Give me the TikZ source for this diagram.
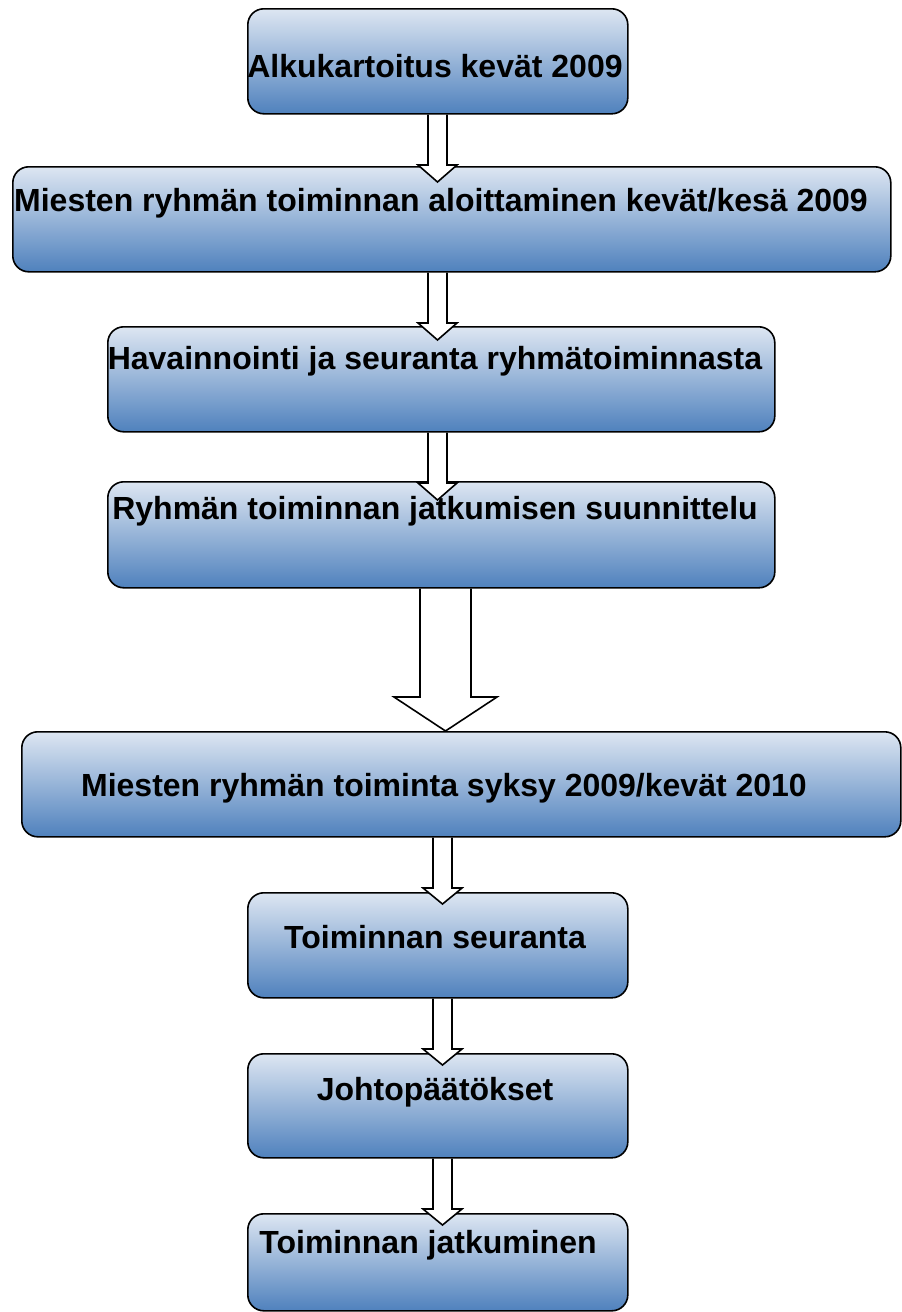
\documentclass[tikz,border=0pt]{standalone}
\usepackage{fontspec}
\setmainfont{Liberation Sans}
\usetikzlibrary{calc}
\definecolor{boxtop}{RGB}{221,230,242}
\definecolor{boxmid}{RGB}{176,196,226}
\definecolor{boxbot}{RGB}{79,129,189}
\tikzset{
  stepbox/.style={draw=black, line width=1.6pt, rounded corners=16pt,
    top color=boxtop, middle color=boxmid, bottom color=boxbot,
    inner sep=0pt, anchor=north west},
  steptext/.style={anchor=base, inner sep=0pt,
    font=\bfseries\fontsize{32}{38}\selectfont},
  blockarrow/.style={draw=black, line width=1.6pt, line join=miter},
}
% #1 from, #2 to, #3 centre x, #4 half body, #5 half head, #6 head length, #7 tip depth below top of #2
\newcommand{\flowarrow}[7]{%
  \fill[white] let \p1=(#1.south), \p2=(#2.north) in
    ({#3pt-#4pt},{\y1-1pt}) -- ({#3pt-#4pt},{\y2-#7pt+#6pt})
    -- ({#3pt-#5pt},{\y2-#7pt+#6pt}) -- (#3pt,{\y2-#7pt})
    -- ({#3pt+#5pt},{\y2-#7pt+#6pt}) -- ({#3pt+#4pt},{\y2-#7pt+#6pt})
    -- ({#3pt+#4pt},{\y1-1pt}) -- cycle;
  \draw[blockarrow] let \p1=(#1.south), \p2=(#2.north) in
    ({#3pt-#4pt},\y1) -- ({#3pt-#4pt},{\y2-#7pt+#6pt})
    -- ({#3pt-#5pt},{\y2-#7pt+#6pt}) -- (#3pt,{\y2-#7pt})
    -- ({#3pt+#5pt},{\y2-#7pt+#6pt}) -- ({#3pt+#4pt},{\y2-#7pt+#6pt})
    -- ({#3pt+#4pt},\y1);
}
\begin{document}
\begin{tikzpicture}[x=1pt,y=-1pt]
\useasboundingbox[fill=white] (0,0) rectangle (902,1312);
% boxes
\node[stepbox, minimum width=380pt, minimum height=105pt] (b1) at (247,8) {};
\node[stepbox, minimum width=878pt, minimum height=105pt] (b2) at (12,166) {};
\node[stepbox, minimum width=667pt, minimum height=105pt] (b3) at (107,326) {};
\node[stepbox, minimum width=667pt, minimum height=106pt] (b4) at (107,481) {};
\node[stepbox, minimum width=879pt, minimum height=105pt] (b5) at (21,731) {};
\node[stepbox, minimum width=380pt, minimum height=105pt] (b6) at (247,892) {};
\node[stepbox, minimum width=380pt, minimum height=104pt] (b7) at (247,1053) {};
\node[stepbox, minimum width=380pt, minimum height=97pt] (b8) at (247,1213) {};
% arrows
\flowarrow{b1}{b2}{437.5}{9.5}{19.5}{17}{16}
\flowarrow{b2}{b3}{437.5}{9.5}{19.5}{17}{14}
\flowarrow{b3}{b4}{437.5}{9.5}{19.5}{17}{19}
\flowarrow{b4}{b5}{445.5}{25.5}{51.5}{34}{0}
\flowarrow{b5}{b6}{442.5}{9.5}{19.5}{16}{12}
\flowarrow{b6}{b7}{442.5}{9.5}{19.5}{16}{12}
\flowarrow{b7}{b8}{442.5}{9.5}{19.5}{16}{12}
% texts
\node[steptext] (t1) at (435,77) {Alkukartoitus kevät 2009};
\node[steptext] (t2) at (441,211) {Miesten ryhmän toiminnan aloittaminen kevät/kesä 2009};
\node[steptext] (t3) at (435,369) {Havainnointi ja seuranta ryhmätoiminnasta};
\node[steptext] (t4) at (435,519) {Ryhmän toiminnan jatkumisen suunnittelu};
\node[steptext] (t5) at (444,796) {Miesten ryhmän toiminta syksy 2009/kevät 2010};
\node[steptext] (t6) at (435,948) {Toiminnan seuranta};
\node[steptext] (t7) at (435,1100) {Johtopäätökset};
\node[steptext] (t8) at (428,1253) {Toiminnan jatkuminen};
\end{tikzpicture}
\end{document}
